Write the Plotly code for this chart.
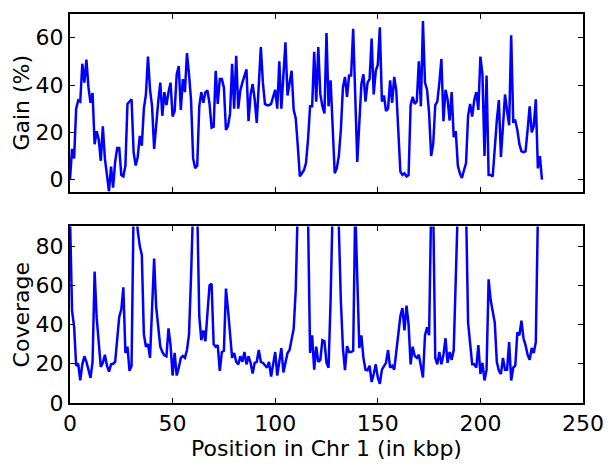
import plotly.graph_objects as go

positions_kbp = list(range(0, 231))

gain_pct = [
    0, 13, 9, 30, 33.5, 33, 49, 41, 50.7, 39,
    32.5, 36.6, 15, 20.5, 17, 8, 22.6, 9, 2, -5,
    5.5, -3.4, 7.5, 13.4, 13.4, 2, 1.4, 6, 32, 33,
    34, 11.6, 6, 9.6, 18.5, 14.4, 30, 36, 52, 38,
    31, 13, 25, 33, 41, 27, 37, 31.5, 37, 41,
    26.7, 29, 44.5, 48, 29.5, 42.5, 37, 53.5, 44.5, 33.5,
    9, 4.8, 6, 31, 37, 32.5, 37, 37.7, 32, 22,
    22.4, 46, 32, 42.5, 42.5, 39, 21, 22.6, 28, 49,
    30, 52.3, 30, 37.7, 41, 44, 46.6, 24.7, 36, 40.4,
    34, 24, 39, 56, 41, 32, 31.5, 31.5, 32, 35.6,
    38, 30, 50, 30, 46, 58, 35.6, 40, 46, 29.5,
    26, 14.4, 1.4, 2.7, 4, 7, 17, 31, 31, 54,
    33, 56, 36, 31, 28, 62, 31, 42, 20, 2.7,
    4.8, 10, 21, 39, 43.4, 35, 44, 44, 63.7, 29.5,
    7.5, 24, 40.4, 44.5, 33, 41, 42.5, 59.6, 36, 46,
    48.6, 64.4, 33, 35.6, 29, 30, 42, 32.5, 43.4, 37.7,
    20, 3.4, 2, 2.7, 1.4, 2, 31.5, 35, 32, 33,
    50, 31, 67, 41, 38, 28, 10, 15, 31.5, 33,
    41, 51, 24.7, 38, 34, 25, 37, 18, 20.5, 6,
    2.7, 0.7, 4, 7, 27, 32, 26.7, 33.6, 37, 29.5,
    52, 44.5, 10, 44, 2, 2, 1.4, 14.4, 25, 33.6,
    9.6, 22.6, 36, 29, 23, 61, 24.7, 25, 21, 15,
    12, 11.6, 12, 21, 31, 20, 22.6, 34, 4.8, 10,
    0,
]

coverage = [
    95, 47, 39, 19, 20, 11.5, 19.7, 23.8, 21, 16.4,
    12.8, 21, 67, 43.5, 30, 18.4, 20.5, 24.6, 19, 16,
    19.7, 20, 21, 33, 44, 47.6, 59, 25.5, 28.7, 16.4,
    19, 100, 100, 88, 80, 75.5, 35, 28.7, 30, 23,
    50, 73.6, 49, 37.8, 28.7, 26, 24.3, 23.8, 38, 29.5,
    14, 25.5, 14, 18, 23, 24, 23, 27, 35, 65,
    100, 100, 100, 44, 32, 37, 31.5, 46, 60, 60.8,
    30, 28.7, 29.5, 16.4, 26, 26.6, 58.3, 47.6, 35, 23,
    25.5, 21, 19.7, 23.8, 21, 26, 19.7, 23.8, 20.5, 15,
    20.5, 21, 27, 21, 20.5, 19, 18, 21, 13.5, 19.7,
    26, 14, 21, 28, 15.6, 21, 25.5, 27, 32, 37.8,
    57.5, 100, 100, 100, 100, 100, 95, 25.5, 34.5, 17,
    28.7, 21, 22, 32, 31.5, 20.5, 18, 52.5, 100, 100,
    100, 90, 52, 28, 16.7, 29, 26, 26, 26.6, 100,
    65, 28, 34.5, 23, 17, 16.7, 19, 10.7, 14.8, 19.7,
    13, 9.8, 17, 19, 20.5, 27, 18, 19, 17, 26,
    36, 44.3, 48.4, 37, 49.6, 40, 19.7, 28.7, 24, 23,
    24.6, 18, 13, 34.5, 38.6, 34.5, 100, 100, 23, 19.7,
    26, 19.7, 24.6, 33, 20.5, 26, 22, 27, 60, 100,
    100, 100, 100, 100, 41, 28, 19.7, 19.7, 18, 29.5,
    14.8, 20.5, 11.5, 17, 63, 52.5, 46, 41, 21, 16.4,
    14.8, 23, 17, 17, 31, 11.5, 18, 19, 36, 34.5,
    42, 33, 29.5, 24.6, 22, 28, 25.5, 31, 95, 100,
    100,
]

x_ticks = [0, 50, 100, 150, 200, 250]
gain_ticks = [0, 20, 40, 60]
cov_ticks = [0, 20, 40, 60, 80]

FONT = "DejaVu Sans"
LINE_COLOR = "#0000ff"

fig = go.Figure()
fig.add_trace(go.Scatter(x=positions_kbp, y=gain_pct, mode="lines",
                         line=dict(color=LINE_COLOR, width=2.5),
                         xaxis="x2", yaxis="y2", showlegend=False))
fig.add_trace(go.Scatter(x=positions_kbp, y=coverage, mode="lines",
                         line=dict(color=LINE_COLOR, width=2.5),
                         xaxis="x", yaxis="y", showlegend=False))

axis_common = dict(showline=True, linecolor="black", linewidth=2, mirror="allticks",
                   ticks="inside", ticklen=5, tickwidth=1, tickcolor="black",
                   showgrid=False, zeroline=False,
                   tickfont=dict(family=FONT, size=22, color="black"))

fig.update_layout(
    width=616, height=466,
    margin=dict(l=70, r=25, t=13, b=52),
    paper_bgcolor="white", plot_bgcolor="white",
    font=dict(family=FONT, size=22, color="black"),
    xaxis=dict(domain=[0, 1], range=[0, 250], tickvals=x_ticks, anchor="y",
               title=dict(text="Position in Chr 1 (in kbp)", standoff=2,
                          font=dict(family=FONT, size=22)),
               **axis_common),
    yaxis=dict(domain=[0, 0.4539], range=[0, 90], tickvals=cov_ticks, anchor="x",
               title=dict(text="Coverage", standoff=0, font=dict(family=FONT, size=22)),
               **axis_common),
    xaxis2=dict(domain=[0, 1], range=[0, 250], tickvals=x_ticks, anchor="y2",
                showticklabels=False, **axis_common),
    yaxis2=dict(domain=[0.5436, 1], range=[-5, 70], tickvals=gain_ticks, anchor="x2",
                title=dict(text="Gain (%)", standoff=0, font=dict(family=FONT, size=22)),
                **axis_common),
)

fig.write_html("out.html")
